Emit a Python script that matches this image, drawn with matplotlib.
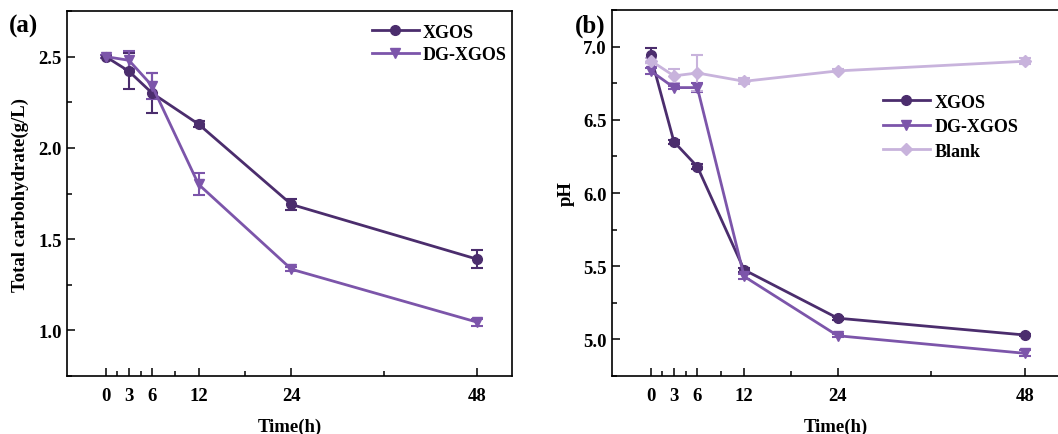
import numpy as np
import matplotlib
matplotlib.use("Agg")
import matplotlib.pyplot as plt
from matplotlib.lines import Line2D
from matplotlib.ticker import FixedLocator, MultipleLocator

plt.rcParams['font.family'] = ['Liberation Serif', 'DejaVu Serif']
plt.rcParams['font.weight'] = 'bold'

# time points (h)
time_h = [0, 3, 6, 12, 24, 48]
time_minor = [1.5, 4.5, 9, 18, 36]

# (a) total carbohydrate (g/L)
carb_xgos = [2.50, 2.42, 2.30, 2.13, 1.69, 1.39]
carb_xgos_err = [0.01, 0.10, 0.11, 0.015, 0.03, 0.05]
carb_dg = [2.50, 2.48, 2.34, 1.80, 1.335, 1.045]
carb_dg_err = [0.01, 0.05, 0.07, 0.06, 0.01, 0.02]

# (b) pH
ph_xgos = [6.94, 6.35, 6.18, 5.475, 5.145, 5.03]
ph_xgos_err = [0.05, 0.015, 0.015, 0.015, 0.01, 0.01]
ph_dg = [6.835, 6.72, 6.72, 5.43, 5.025, 4.905]
ph_dg_err = [0.02, 0.01, 0.03, 0.02, 0.01, 0.02]
ph_blank = [6.905, 6.80, 6.82, 6.763, 6.834, 6.90]
ph_blank_err = [0.02, 0.05, 0.12, 0.02, 0.01, 0.02]

c_xgos = '#4b2d6d'
c_dg = '#7c55aa'
c_blank = '#c8b3dc'

fig = plt.figure(figsize=(10.58, 4.35), dpi=100)
ax_a = fig.add_axes([0.0633, 0.1333, 0.4207, 0.8391])
ax_b = fig.add_axes([0.578, 0.1333, 0.424, 0.8414])


def draw_series(ax, y, err, color, marker, ms=7):
    ax.errorbar(time_h, y, yerr=err, color=color, marker=marker, ms=ms,
                lw=2, elinewidth=1.5, capsize=4, capthick=1.5)
    return Line2D([], [], color=color, marker=marker, ms=ms, lw=2)


def style_axis(ax, ylim, ymajor, yminor, ylabel, labelpad):
    ax.set_xlim(-5, 52.5)
    ax.set_ylim(*ylim)
    ax.xaxis.set_major_locator(FixedLocator(time_h))
    ax.xaxis.set_minor_locator(FixedLocator(time_minor))
    ax.yaxis.set_major_locator(MultipleLocator(ymajor))
    ax.yaxis.set_minor_locator(MultipleLocator(yminor))
    ax.tick_params(which='both', direction='in', labelsize=13.5, width=1.1)
    ax.tick_params(which='major', length=6)
    ax.tick_params(which='minor', length=3.5)
    ax.tick_params(axis='x', pad=8)
    for sp in ax.spines.values():
        sp.set_linewidth(1.2)
    ax.set_xlabel('Time(h)', fontsize=13.5, fontweight='bold', labelpad=10)
    ax.set_ylabel(ylabel, fontsize=13.5, fontweight='bold', labelpad=labelpad)


h1 = draw_series(ax_a, carb_xgos, carb_xgos_err, c_xgos, 'o')
h2 = draw_series(ax_a, carb_dg, carb_dg_err, c_dg, 'v')
style_axis(ax_a, (0.75, 2.75), 0.5, 0.25, 'Total carbohydrate(g/L)', 7)
ax_a.legend([h1, h2], ['XGOS', 'DG-XGOS'], loc='upper left', frameon=False,
            fontsize=13, handlelength=2.6, handletextpad=0.25,
            labelspacing=0.3, bbox_to_anchor=(0.648, 1.01))

g1 = draw_series(ax_b, ph_xgos, ph_xgos_err, c_xgos, 'o')
g2 = draw_series(ax_b, ph_dg, ph_dg_err, c_dg, 'v')
g3 = draw_series(ax_b, ph_blank, ph_blank_err, c_blank, 'D', ms=6)
style_axis(ax_b, (4.75, 7.25), 0.5, 0.25, 'pH', 6)
ax_b.legend([g1, g2, g3], ['XGOS', 'DG-XGOS', 'Blank'], loc='upper left',
            frameon=False, fontsize=13, handlelength=2.6, handletextpad=0.25,
            labelspacing=0.42, bbox_to_anchor=(0.569, 0.816))

fig.text(0.008, 0.925, '(a)', fontsize=18, fontweight='bold')
fig.text(0.543, 0.925, '(b)', fontsize=18, fontweight='bold')

fig.savefig('out.png', dpi=100)
